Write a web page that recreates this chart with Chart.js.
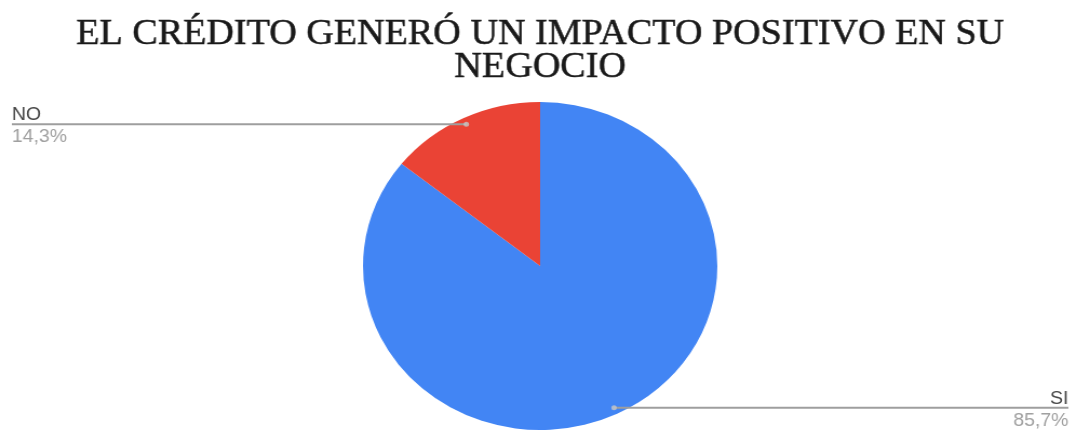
<!DOCTYPE html>
<html>
<head>
<meta charset="utf-8">
<script src="https://cdn.jsdelivr.net/npm/chart.js@4/dist/chart.umd.min.js"></script>
<style>
  html, body { margin: 0; padding: 0; background: #fff; overflow: hidden; }
  /* the chart is laid out narrower and stretched sideways, so the pie comes out a little wide */
  #wrap { width: 996px; height: 434px; transform: scaleX(1.0803); transform-origin: 0 0; }
</style>
</head>
<body>
<div id="wrap"><canvas id="chart"></canvas></div>
<script>
const titleLines = ["EL CRÉDITO GENERÓ UN IMPACTO POSITIVO EN SU", "NEGOCIO"];
const categories = ["SI", "NO"];
const percents = [85.7, 14.3];
const sliceColors = ["#4285f4", "#ea4335"];

const fmt = v => v.toFixed(1).replace(".", ",") + "%";

// serif title, squeezed to a fixed width
const titlePlugin = {
    id: "titleLines",
    afterDraw(chart) {
        const ctx = chart.ctx;
        ctx.save();
        ctx.font = "36px 'Liberation Serif', 'Times New Roman', serif";
        ctx.fillStyle = "#1a1a1a";
        ctx.strokeStyle = "#1a1a1a";
        ctx.lineWidth = 0.5;
        ctx.textAlign = "center";
        ctx.textBaseline = "alphabetic";
        const sx = 859 / ctx.measureText(titleLines[0]).width;
        const cx = 500;
        [44, 77].forEach((y, i) => {
            ctx.save();
            ctx.translate(cx, y);
            ctx.scale(sx, 1);
            ctx.fillText(titleLines[i], 0, 0);
            ctx.strokeText(titleLines[i], 0, 0);
            ctx.restore();
        });
        ctx.restore();
    }
};

// leader lines running out to the side labels
const leaderPlugin = {
    id: "leaders",
    afterDatasetsDraw(chart) {
        const ctx = chart.ctx;
        const meta = chart.getDatasetMeta(0);
        ctx.save();
        meta.data.forEach((arc, i) => {
            const p = arc.getProps(["x", "y", "startAngle", "endAngle", "outerRadius"], true);
            const mid = (p.startAngle + p.endAngle) / 2;
            const ax = p.x + Math.cos(mid) * p.outerRadius * 0.96;
            const ay = p.y + Math.sin(mid) * p.outerRadius * 0.96;
            const left = Math.cos(mid) < 0;
            const ex = left ? 11 : 989;

            ctx.strokeStyle = "#9e9e9e";
            ctx.lineWidth = 2;
            ctx.beginPath();
            ctx.moveTo(ax, ay);
            ctx.lineTo(ex, ay);
            ctx.stroke();

            ctx.fillStyle = "rgba(200,200,200,0.8)";
            ctx.beginPath();
            ctx.arc(ax, ay, 2.5, 0, Math.PI * 2);
            ctx.fill();

            ctx.font = "18px 'Liberation Sans', Arial, sans-serif";
            ctx.textAlign = left ? "left" : "right";
            ctx.fillStyle = "#444";
            ctx.textBaseline = "alphabetic";
            ctx.fillText(categories[i], ex, ay - 4);
            ctx.fillStyle = "#a0a0a0";
            ctx.textBaseline = "top";
            ctx.fillText(fmt(percents[i]), ex, ay + 4);
        });
        ctx.restore();
    }
};

new Chart(document.getElementById("chart"), {
    type: "pie",
    data: {
        labels: categories,
        datasets: [{
            data: percents,
            backgroundColor: sliceColors,
            borderWidth: 0
        }]
    },
    options: {
        responsive: true,
        maintainAspectRatio: false,
        animation: false,
        layout: { padding: { top: 102, bottom: 4, left: 4, right: 0 } },
        plugins: {
            legend: { display: false },
            tooltip: { enabled: false }
        }
    },
    plugins: [titlePlugin, leaderPlugin]
});
</script>
</body>
</html>
